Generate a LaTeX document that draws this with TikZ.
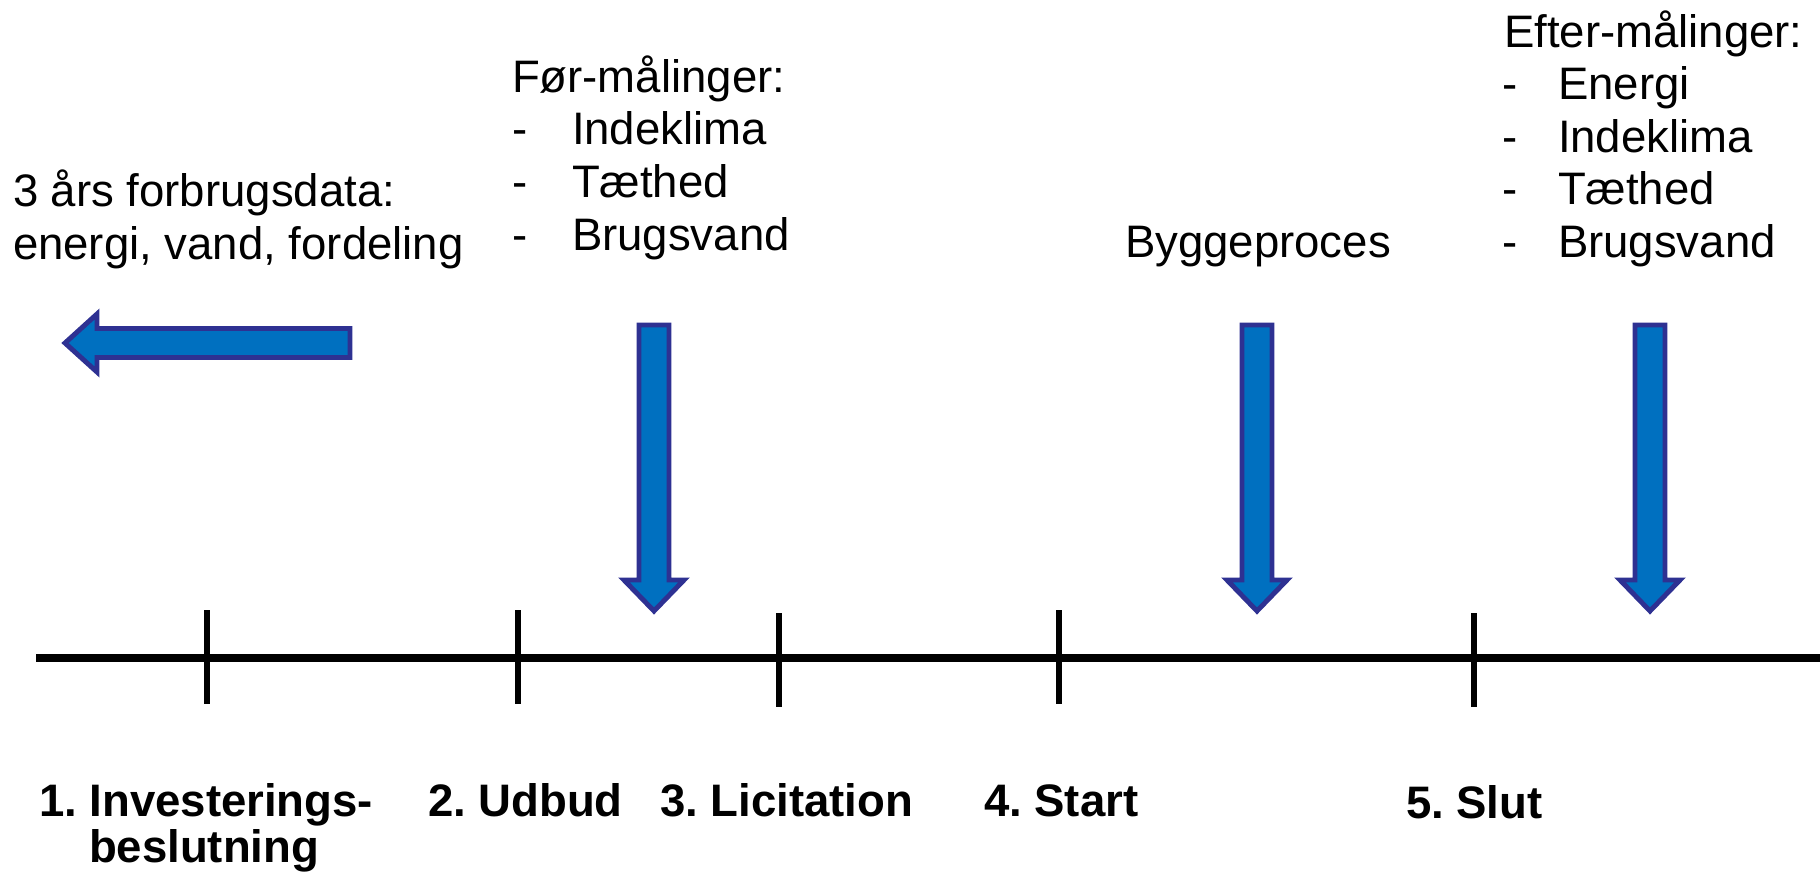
\documentclass[tikz,border=0pt]{standalone}
\usepackage{fontspec}
\setmainfont{Liberation Sans}
\frenchspacing
\definecolor{pilblaa}{RGB}{0,112,192}
\definecolor{pilkant}{RGB}{46,49,146}
\tikzset{
        tekst/.style = {anchor=base west, inner sep=0pt, outer sep=0pt,
            font=\fontsize{12.95pt}{15pt}\selectfont},
        fase/.style = {tekst, font=\fontsize{12.95pt}{15pt}\selectfont\bfseries},
        pil/.style = {fill=pilblaa, draw=pilkant, line width=1.4pt,
            line join=miter},
        nedpil/.pic = {
            \path[pil] (-15,325) -- (15,325) -- (15,580) -- (30,580)
                -- (0,611) -- (-30,580) -- (-15,580) -- cycle;}
    }

\begin{document}
\begin{tikzpicture}[x=0.01cm, y=-0.01cm]
    \useasboundingbox (0,0) rectangle (1820,872);
    % tidslinje
    \coordinate (t0) at (36,658);
    \coordinate (t1) at (1820,658);
    \draw[line width=2.3pt] (t0) -- (t1);
    \foreach \x/\a/\b in {207/610/704, 518/610/704, 779/613/707,
                          1059/610/704, 1474/613/707}
        \draw[line width=1.7pt] (\x,\a) -- (\x,\b);

    % pile
    \path[pil] (350,328.5) -- (97,328.5) -- (97,314) -- (65,343)
        -- (97,372) -- (97,357.5) -- (350,357.5) -- cycle;
    \pic at (654,0) {nedpil};
    \pic at (1257,0) {nedpil};
    \pic at (1650,0) {nedpil};

    % tekster
    \node [tekst] (forbrug1) at (13,206) {3 års forbrugsdata:};
    \node [tekst] (forbrug2) at (13,259) {energi, vand, fordeling};
    \node [tekst] (foer) at (512,92) {Før-målinger:};
    \foreach \t [count=\i] in {Indeklima, Tæthed, Brugsvand} {
        \node [tekst] (foerstreg\i) at (512,92+52.7*\i) {-};
        \node [tekst] (foerpunkt\i) at (572,92+52.7*\i) {\t};
    }
    \node [tekst] (bygge) at (1125,257) {Byggeproces};
    \node [tekst] (efter) at (1504,47) {Efter-målinger:};
    \foreach \t [count=\i] in {Energi, Indeklima, Tæthed, Brugsvand} {
        \node [tekst] (efterstreg\i) at (1502,47+52.6*\i) {-};
        \node [tekst] (efterpunkt\i) at (1558,47+52.6*\i) {\t};
    }

    % faser
    \node [fase] (fase1) at (39,816) {1. Investerings-};
    \node [fase] (fase1b) at (89,862) {beslutning};
    \node [fase] (fase2) at (428,816) {2. Udbud};
    \node [fase] (fase3) at (660,816) {3. Licitation};
    \node [fase] (fase4) at (984,816) {4. Start};
    \node [fase] (fase5) at (1406,818) {5. Slut};
\end{tikzpicture}
\end{document}
